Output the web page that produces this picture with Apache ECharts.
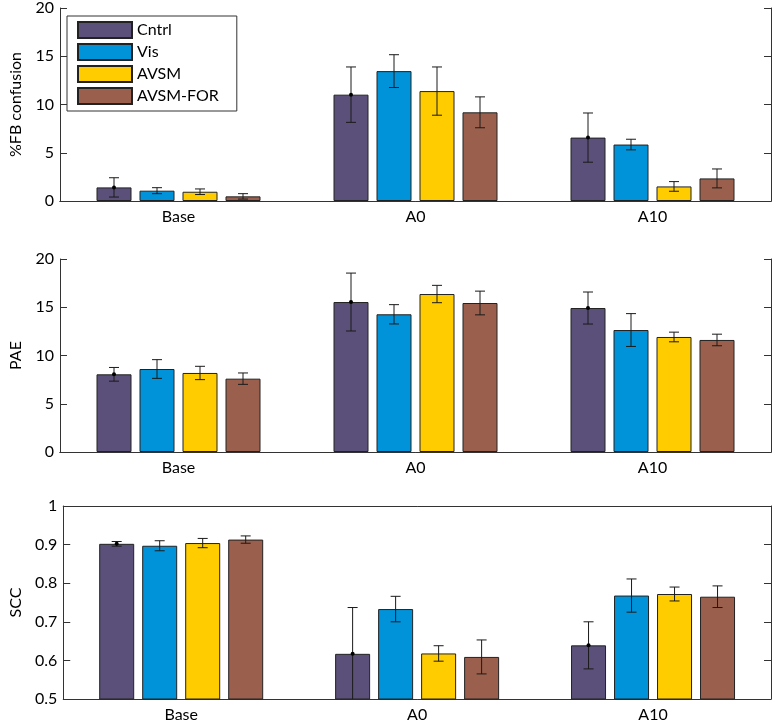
<!DOCTYPE html>
<html>
<head>
<meta charset="utf-8">
<script src="https://cdn.jsdelivr.net/npm/echarts@6/dist/echarts.min.js"></script>
<style>html,body{margin:0;padding:0;background:#fff}#c{width:773px;height:724px}</style>
</head>
<body>
<div id="c"></div>
<script>
const categories = ["Base", "A0", "A10"];
const seriesNames = ["Cntrl", "Vis", "AVSM", "AVSM-FOR"];
const colors = ["#5b5079", "#0093d9", "#ffcc00", "#9a604d"];

// Panel 1: %FB confusion
const fbCntrl = [1.41, 11.02, 6.57];
const fbVis = [1.07, 13.46, 5.85];
const fbAvsm = [0.96, 11.39, 1.51];
const fbFor = [0.48, 9.19, 2.34];
const fbErrCntrl = [1.0, 2.87, 2.55];
const fbErrVis = [0.31, 1.7, 0.55];
const fbErrAvsm = [0.29, 2.5, 0.5];
const fbErrFor = [0.28, 1.6, 0.98];

// Panel 2: PAE
const paeCntrl = [8.05, 15.54, 14.92];
const paeVis = [8.6, 14.27, 12.64];
const paeAvsm = [8.19, 16.37, 11.92];
const paeFor = [7.6, 15.44, 11.61];
const paeErrCntrl = [0.71, 3.0, 1.66];
const paeErrVis = [0.97, 1.0, 1.7];
const paeErrAvsm = [0.69, 0.9, 0.5];
const paeErrFor = [0.59, 1.23, 0.6];

// Panel 3: SCC
const sccCntrl = [0.902, 0.617, 0.639];
const sccVis = [0.897, 0.733, 0.768];
const sccAvsm = [0.904, 0.618, 0.772];
const sccFor = [0.913, 0.609, 0.765];
const sccErrCntrl = [0.006, 0.12, 0.061];
const sccErrVis = [0.013, 0.033, 0.043];
const sccErrAvsm = [0.012, 0.02, 0.018];
const sccErrFor = [0.0095, 0.044, 0.028];

const panels = [
  {name: "%FB confusion", min: 0, max: 20, interval: 5,
   values: [fbCntrl, fbVis, fbAvsm, fbFor], errs: [fbErrCntrl, fbErrVis, fbErrAvsm, fbErrFor]},
  {name: "PAE", min: 0, max: 20, interval: 5,
   values: [paeCntrl, paeVis, paeAvsm, paeFor], errs: [paeErrCntrl, paeErrVis, paeErrAvsm, paeErrFor]},
  {name: "SCC", min: 0.5, max: 1, interval: 0.1,
   values: [sccCntrl, sccVis, sccAvsm, sccFor], errs: [sccErrCntrl, sccErrVis, sccErrAvsm, sccErrFor]}
];

const FONT = "Lato";
const TEXT_COLOR = "#000";
const AXIS_COLOR = "#333";
const BAR_W = 35, BAR_GAP = 8;
const gridTops = [7, 259, 506];
const gridHeights = [194, 193, 193];

const grid = [], xAxis = [], yAxis = [], series = [];
panels.forEach((p, i) => {
  grid.push({left: 58, width: 713, top: gridTops[i], height: gridHeights[i], show: false});
  xAxis.push({
    type: "category", gridIndex: i, data: categories, position: "bottom",
    axisLine: {lineStyle: {color: AXIS_COLOR}},
    axisTick: {inside: true, alignWithLabel: true, length: 7, lineStyle: {color: AXIS_COLOR}},
    axisLabel: {color: TEXT_COLOR, fontSize: 16, fontFamily: FONT, margin: 8}
  });
  xAxis.push({
    type: "category", gridIndex: i, data: categories, position: "top",
    axisLine: {lineStyle: {color: AXIS_COLOR}},
    axisTick: {inside: true, alignWithLabel: true, length: 7, lineStyle: {color: AXIS_COLOR}},
    axisLabel: {show: false}
  });
  yAxis.push({
    type: "value", gridIndex: i, min: p.min, max: p.max, interval: p.interval, position: "left",
    name: p.name, nameLocation: "middle", nameGap: 36, nameRotate: 90,
    nameTextStyle: {color: TEXT_COLOR, fontSize: 16, fontFamily: FONT},
    axisLine: {show: true, lineStyle: {color: AXIS_COLOR}},
    axisTick: {show: true, inside: true, length: 7, lineStyle: {color: AXIS_COLOR}},
    axisLabel: {color: TEXT_COLOR, fontSize: 16, fontFamily: FONT, margin: 6},
    splitLine: {show: false}
  });
  yAxis.push({
    type: "value", gridIndex: i, min: p.min, max: p.max, interval: p.interval, position: "right",
    axisLine: {show: true, lineStyle: {color: AXIS_COLOR}},
    axisTick: {show: true, inside: true, length: 7, lineStyle: {color: AXIS_COLOR}},
    axisLabel: {show: false},
    splitLine: {show: false}
  });
  seriesNames.forEach((nm, s) => {
    series.push({
      type: "bar", name: nm, xAxisIndex: 2 * i, yAxisIndex: 2 * i, z: 2,
      data: p.values[s], barWidth: BAR_W, barGap: (BAR_GAP / BAR_W * 100) + "%",
      itemStyle: {color: colors[s], borderColor: "#222", borderWidth: 1},
      emphasis: {disabled: true}, animation: false
    });
  });
  const errData = [];
  p.values.forEach((vals, s) => {
    vals.forEach((v, c) => errData.push([c, s, v, p.errs[s][c]]));
  });
  series.push({
    type: "custom", xAxisIndex: 2 * i, yAxisIndex: 2 * i, clip: true, silent: true, z: 10,
    animation: false, encode: {x: 0, y: 2},
    data: errData,
    renderItem: function (params, api) {
      const c = api.value(0), s = api.value(1), v = api.value(2), e = api.value(3);
      const off = (s - 1.5) * (BAR_W + BAR_GAP);
      const top = api.coord([c, v + e]);
      const bot = api.coord([c, v - e]);
      const mid = api.coord([c, v]);
      const x = top[0] + off;
      const cap = 5;
      const st = {stroke: "#1a1a1a", lineWidth: 1};
      const children = [
        {type: "line", shape: {x1: x, y1: top[1], x2: x, y2: bot[1]}, style: st},
        {type: "line", shape: {x1: x - cap, y1: top[1], x2: x + cap, y2: top[1]}, style: st},
        {type: "line", shape: {x1: x - cap, y1: bot[1], x2: x + cap, y2: bot[1]}, style: st}
      ];
      if (s === 0) {
        children.push({type: "circle", shape: {cx: x, cy: mid[1], r: 2}, style: {fill: "#000"}});
      }
      return {type: "group", children: children};
    }
  });
});

const chart = echarts.init(document.getElementById("c"), null, {renderer: "canvas"});
chart.setOption({
  backgroundColor: "#fff",
  animation: false,
  textStyle: {fontFamily: FONT},
  legend: {
    data: seriesNames, orient: "vertical", left: 67, top: 16,
    itemWidth: 54, itemHeight: 16, itemGap: 4,
    padding: [5, 18, 6, 10],
    borderColor: "#333", borderWidth: 1, backgroundColor: "#fff",
    textStyle: {color: TEXT_COLOR, fontSize: 16, fontFamily: FONT},
    icon: "rect", selectedMode: false
  },
  grid: grid, xAxis: xAxis, yAxis: yAxis, series: series
});
</script>
</body>
</html>
